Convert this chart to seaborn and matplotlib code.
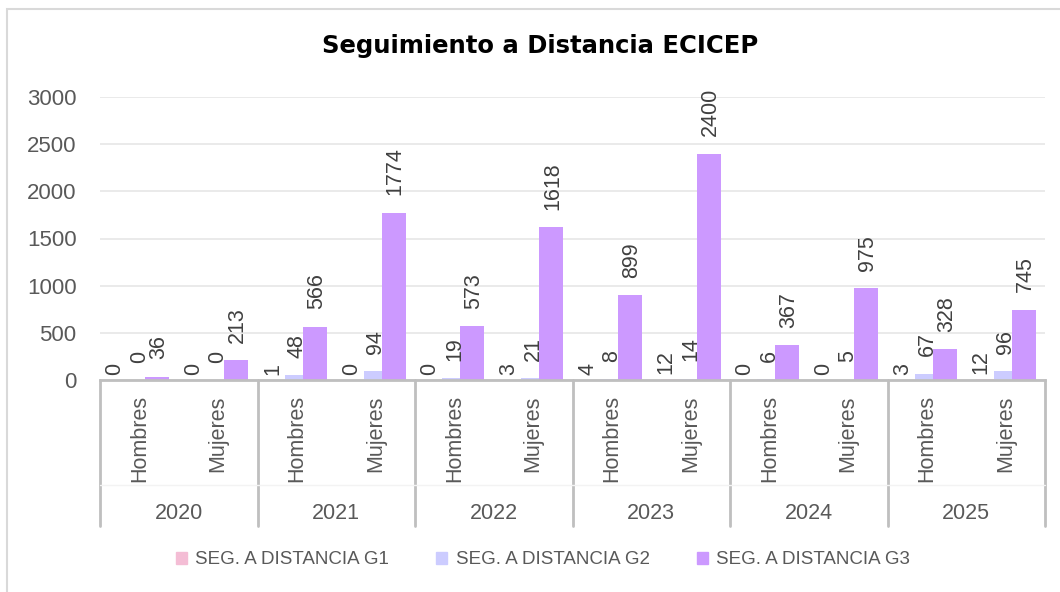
import numpy as np
import pandas as pd
import seaborn as sns
import matplotlib.pyplot as plt
from matplotlib.patches import Rectangle
from matplotlib.lines import Line2D
import matplotlib.transforms as mtransforms

# Data
years = ["2020", "2021", "2022", "2023", "2024", "2025"]
sexes = ["Hombres", "Mujeres"]
series = ["SEG. A DISTANCIA G1", "SEG. A DISTANCIA G2", "SEG. A DISTANCIA G3"]
g1 = [0, 0, 1, 0, 0, 3, 4, 12, 0, 0, 3, 12]
g2 = [0, 0, 48, 94, 19, 21, 8, 14, 6, 5, 67, 96]
g3 = [36, 213, 566, 1774, 573, 1618, 899, 2400, 367, 975, 328, 745]
colors = ["#F4BDD5", "#CCCCFF", "#CC99FF"]

cats = [f"{y} {s}" for y in years for s in sexes]
df = pd.DataFrame({
    "cat": cats * 3,
    "serie": np.repeat(series, len(cats)),
    "valor": g1 + g2 + g3,
})

sns.set_theme(style="white")
plt.rcParams["font.family"] = ["Liberation Sans", "DejaVu Sans"]
txt = "#595959"

fig = plt.figure(figsize=(10.6, 5.92), dpi=100)
ax = fig.add_axes([100 / 1060, 1 - 380 / 592, 945 / 1060, 283 / 592])

sns.barplot(data=df, x="cat", y="valor", hue="serie", order=cats,
            hue_order=series, palette=colors, saturation=1, width=0.686,
            ax=ax, linewidth=0, legend=False)

# widen bars a bit so neighbours overlap like the original
for cont in ax.containers:
    for p in cont.patches:
        cx = p.get_x() + p.get_width() / 2
        p.set_width(0.305)
        p.set_x(cx - 0.305 / 2)

# data labels (rotated), G1 labels sit a little to the left like in Excel
offsets = [(-4.5, 3.5), (0, 12.5), (1.2, 12.5)]
for cont, (dx, pad) in zip(ax.containers, offsets):
    anns = ax.bar_label(cont, fmt="%d", rotation=90, padding=pad,
                        fontsize=15.5, color="#404040")
    for a in anns:
        a.xyann = (dx, pad)

ax.set_xlim(-0.5, len(cats) - 0.5)
ax.set_ylim(0, 3000)
ax.set_yticks(range(0, 3001, 500))
ax.tick_params(axis="y", length=0, pad=17, labelsize=16, labelcolor=txt)
ax.yaxis.grid(True, color="#E6E6E6", linewidth=1.2)
ax.set_axisbelow(True)
ax.set_xlabel("")
ax.set_ylabel("")
for s in ["left", "right", "top"]:
    ax.spines[s].set_visible(False)
ax.spines["bottom"].set_color("#BFBFBF")
ax.spines["bottom"].set_linewidth(2)

ax.set_xticks(range(len(cats)))
ax.set_xticklabels(sexes * len(years), rotation=90, va="top")
ax.tick_params(axis="x", length=0, pad=11, labelsize=15.5, labelcolor=txt)

# second level of the category axis (years)
trans = mtransforms.blended_transform_factory(ax.transData, ax.transAxes)
for i, y in enumerate(years):
    ax.text(2 * i + 0.5, -0.47, y, transform=trans, ha="center", va="center",
            fontsize=15.5, color=txt)
for i in range(len(years) + 1):
    ax.add_line(Line2D([2 * i - 0.5] * 2, [0, -0.516], transform=trans,
                       color="#BFBFBF", linewidth=2, clip_on=False))
ax.add_line(Line2D([-0.5, len(cats) - 0.5], [-0.371, -0.371], transform=trans,
                   color="#F3F3F3", linewidth=1, clip_on=False))

fig.text(540 / 1060, 1 - 53 / 592, "Seguimiento a Distancia ECICEP",
         ha="center", va="baseline", fontsize=17.5, fontweight="bold",
         family="DejaVu Sans", color="black")

handles = [Rectangle((0, 0), 1, 1, color=c) for c in colors]
fig.legend(handles, series, loc="center", bbox_to_anchor=(543 / 1060, 1 - 560 / 592),
           ncol=3, frameon=False, fontsize=13.5, labelcolor=txt,
           handlelength=0.6, handleheight=0.6, handletextpad=0.45,
           columnspacing=2.5)

fig.add_artist(Rectangle((7 / 1060, -0.1), 1.2, 1.1 - 9 / 592,
                         transform=fig.transFigure, fill=False,
                         edgecolor="#D9D9D9", linewidth=1.5))

fig.savefig("out.png", dpi=100)
